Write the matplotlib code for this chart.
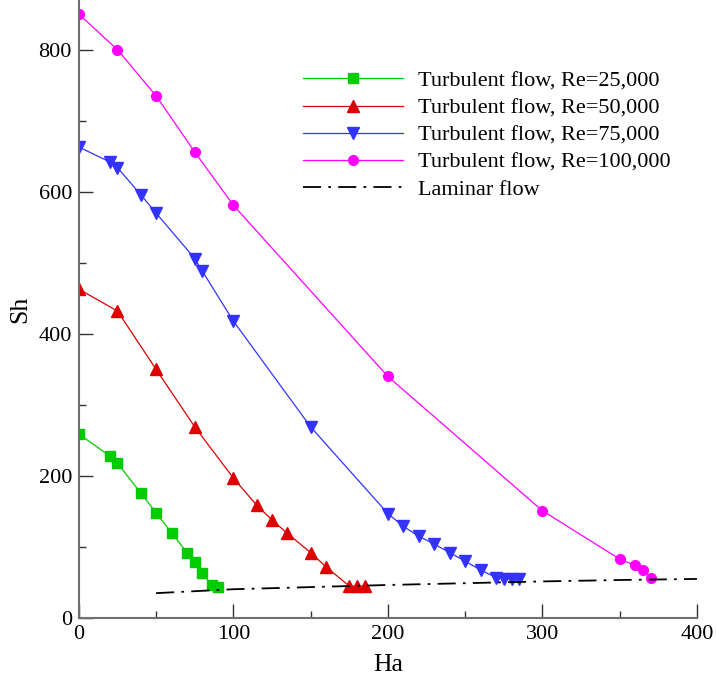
import matplotlib
matplotlib.use("Agg")
import matplotlib.pyplot as plt
from matplotlib.ticker import MultipleLocator

plt.rcParams['font.family'] = ['Liberation Serif', 'DejaVu Serif']
plt.rcParams['mathtext.fontset'] = 'stix'

# Sherwood number vs Hartmann number, turbulent cases
ha_25k = [0, 20, 25, 40, 50, 60, 70, 75, 80, 86, 90]
sh_25k = [259, 228, 218, 176, 148, 120, 92, 79, 64, 46, 44]

ha_50k = [0, 25, 50, 75, 100, 115, 125, 135, 150, 160, 175, 180, 185]
sh_50k = [463, 432, 350, 269, 197, 159, 138, 119, 92, 72, 45, 45, 45]

ha_75k = [0, 20, 25, 40, 50, 75, 80, 100, 150, 200, 210, 220, 230, 240, 250, 260,
          270, 275, 280, 285]
sh_75k = [663, 642, 634, 596, 570, 506, 488, 418, 269, 147, 129, 115, 104, 92, 80, 67.5,
          57, 55, 55, 55]

ha_100k = [0, 25, 50, 75, 100, 200, 300, 350, 360, 365, 370]
sh_100k = [850, 800, 735, 656, 581, 340, 151, 83, 74, 67, 57]

# laminar reference curve
ha_lam = [50, 100, 150, 200, 250, 300, 350, 400]
sh_lam = [35, 40.5, 43.5, 46.5, 49, 51.5, 53.5, 55]

fig = plt.figure(figsize=(7.17, 6.81), dpi=100)
ax = fig.add_axes([0.110, 0.0925, 0.862, 0.9075])

lw = 0.9
ax.plot(ha_25k, sh_25k, color='#00cc00', lw=lw, marker='s', ms=7.5,
        label='Turbulent flow, Re=25,000')
ax.plot(ha_50k, sh_50k, color='#dd0000', lw=lw, marker='^', ms=8.5,
        label='Turbulent flow, Re=50,000')
ax.plot(ha_75k, sh_75k, color='#3333ff', lw=lw, marker='v', ms=8.5,
        label='Turbulent flow, Re=75,000')
ax.plot(ha_100k, sh_100k, color='#ff00ff', lw=lw, marker='o', ms=7,
        label='Turbulent flow, Re=100,000')
ax.plot(ha_lam, sh_lam, color='black', lw=1.3, dashes=(10, 4, 1.5, 4),
        label='Laminar flow')

ax.set_xlim(0, 400)
ax.set_ylim(0, 870)
ax.xaxis.set_major_locator(MultipleLocator(100))
ax.xaxis.set_minor_locator(MultipleLocator(50))
ax.yaxis.set_major_locator(MultipleLocator(200))
ax.yaxis.set_minor_locator(MultipleLocator(100))

ax.spines['top'].set_visible(False)
ax.spines['right'].set_visible(False)
for side in ('left', 'bottom'):
    ax.spines[side].set_color('#707070')
    ax.spines[side].set_linewidth(1.5)

ax.tick_params(which='major', direction='in', length=10, width=1, color='#333333',
               labelsize=16, pad=5, top=False, right=False)
ax.tick_params(which='minor', direction='in', length=5, width=1, color='#333333',
               top=False, right=False)

ax.set_xlabel('Ha', fontsize=18.5, labelpad=7)
ax.set_ylabel('Sh', fontsize=18.5, labelpad=5)

ax.legend(loc='upper left', bbox_to_anchor=(0.348, 0.90), frameon=False,
          fontsize=16, numpoints=1, handlelength=4.5, handletextpad=0.7,
          labelspacing=0.3, borderaxespad=0)

fig.savefig('out.png', dpi=100)
